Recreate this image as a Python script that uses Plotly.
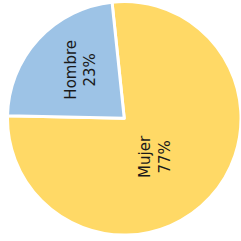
import plotly.graph_objects as go

labels = ["Mujer", "Hombre"]
values = [77, 23]
colors = ["#FFD966", "#9DC3E6"]
label_pos_x = [0.643, 0.335]
label_pos_y = [0.353, 0.71]

fig = go.Figure(go.Pie(
    labels=labels,
    values=values,
    sort=False,
    direction="clockwise",
    rotation=-6,
    marker=dict(colors=colors, line=dict(color="white", width=3)),
    textinfo="none",
    hoverinfo="label+percent",
    domain=dict(x=[0.031, 1.0], y=[0.0237, 0.9946]),
    showlegend=False,
))

total = sum(values)
for lab, val, px, py in zip(labels, values, label_pos_x, label_pos_y):
    fig.add_annotation(
        x=px, y=py, xref="paper", yref="paper",
        xanchor="center", yanchor="middle",
        text=f"{lab}<br>{round(100 * val / total)}%",
        textangle=-90, showarrow=False,
        font=dict(family="DejaVu Sans", size=15, color="#1a1a1a"),
    )

fig.update_layout(
    width=241, height=241,
    margin=dict(l=0, r=0, t=0, b=0),
    paper_bgcolor="white", plot_bgcolor="white",
)
fig.write_html(
    "out.html",
    config={"displayModeBar": False},
    post_script="document.body.style.margin='0';document.body.style.overflow='hidden';",
)
